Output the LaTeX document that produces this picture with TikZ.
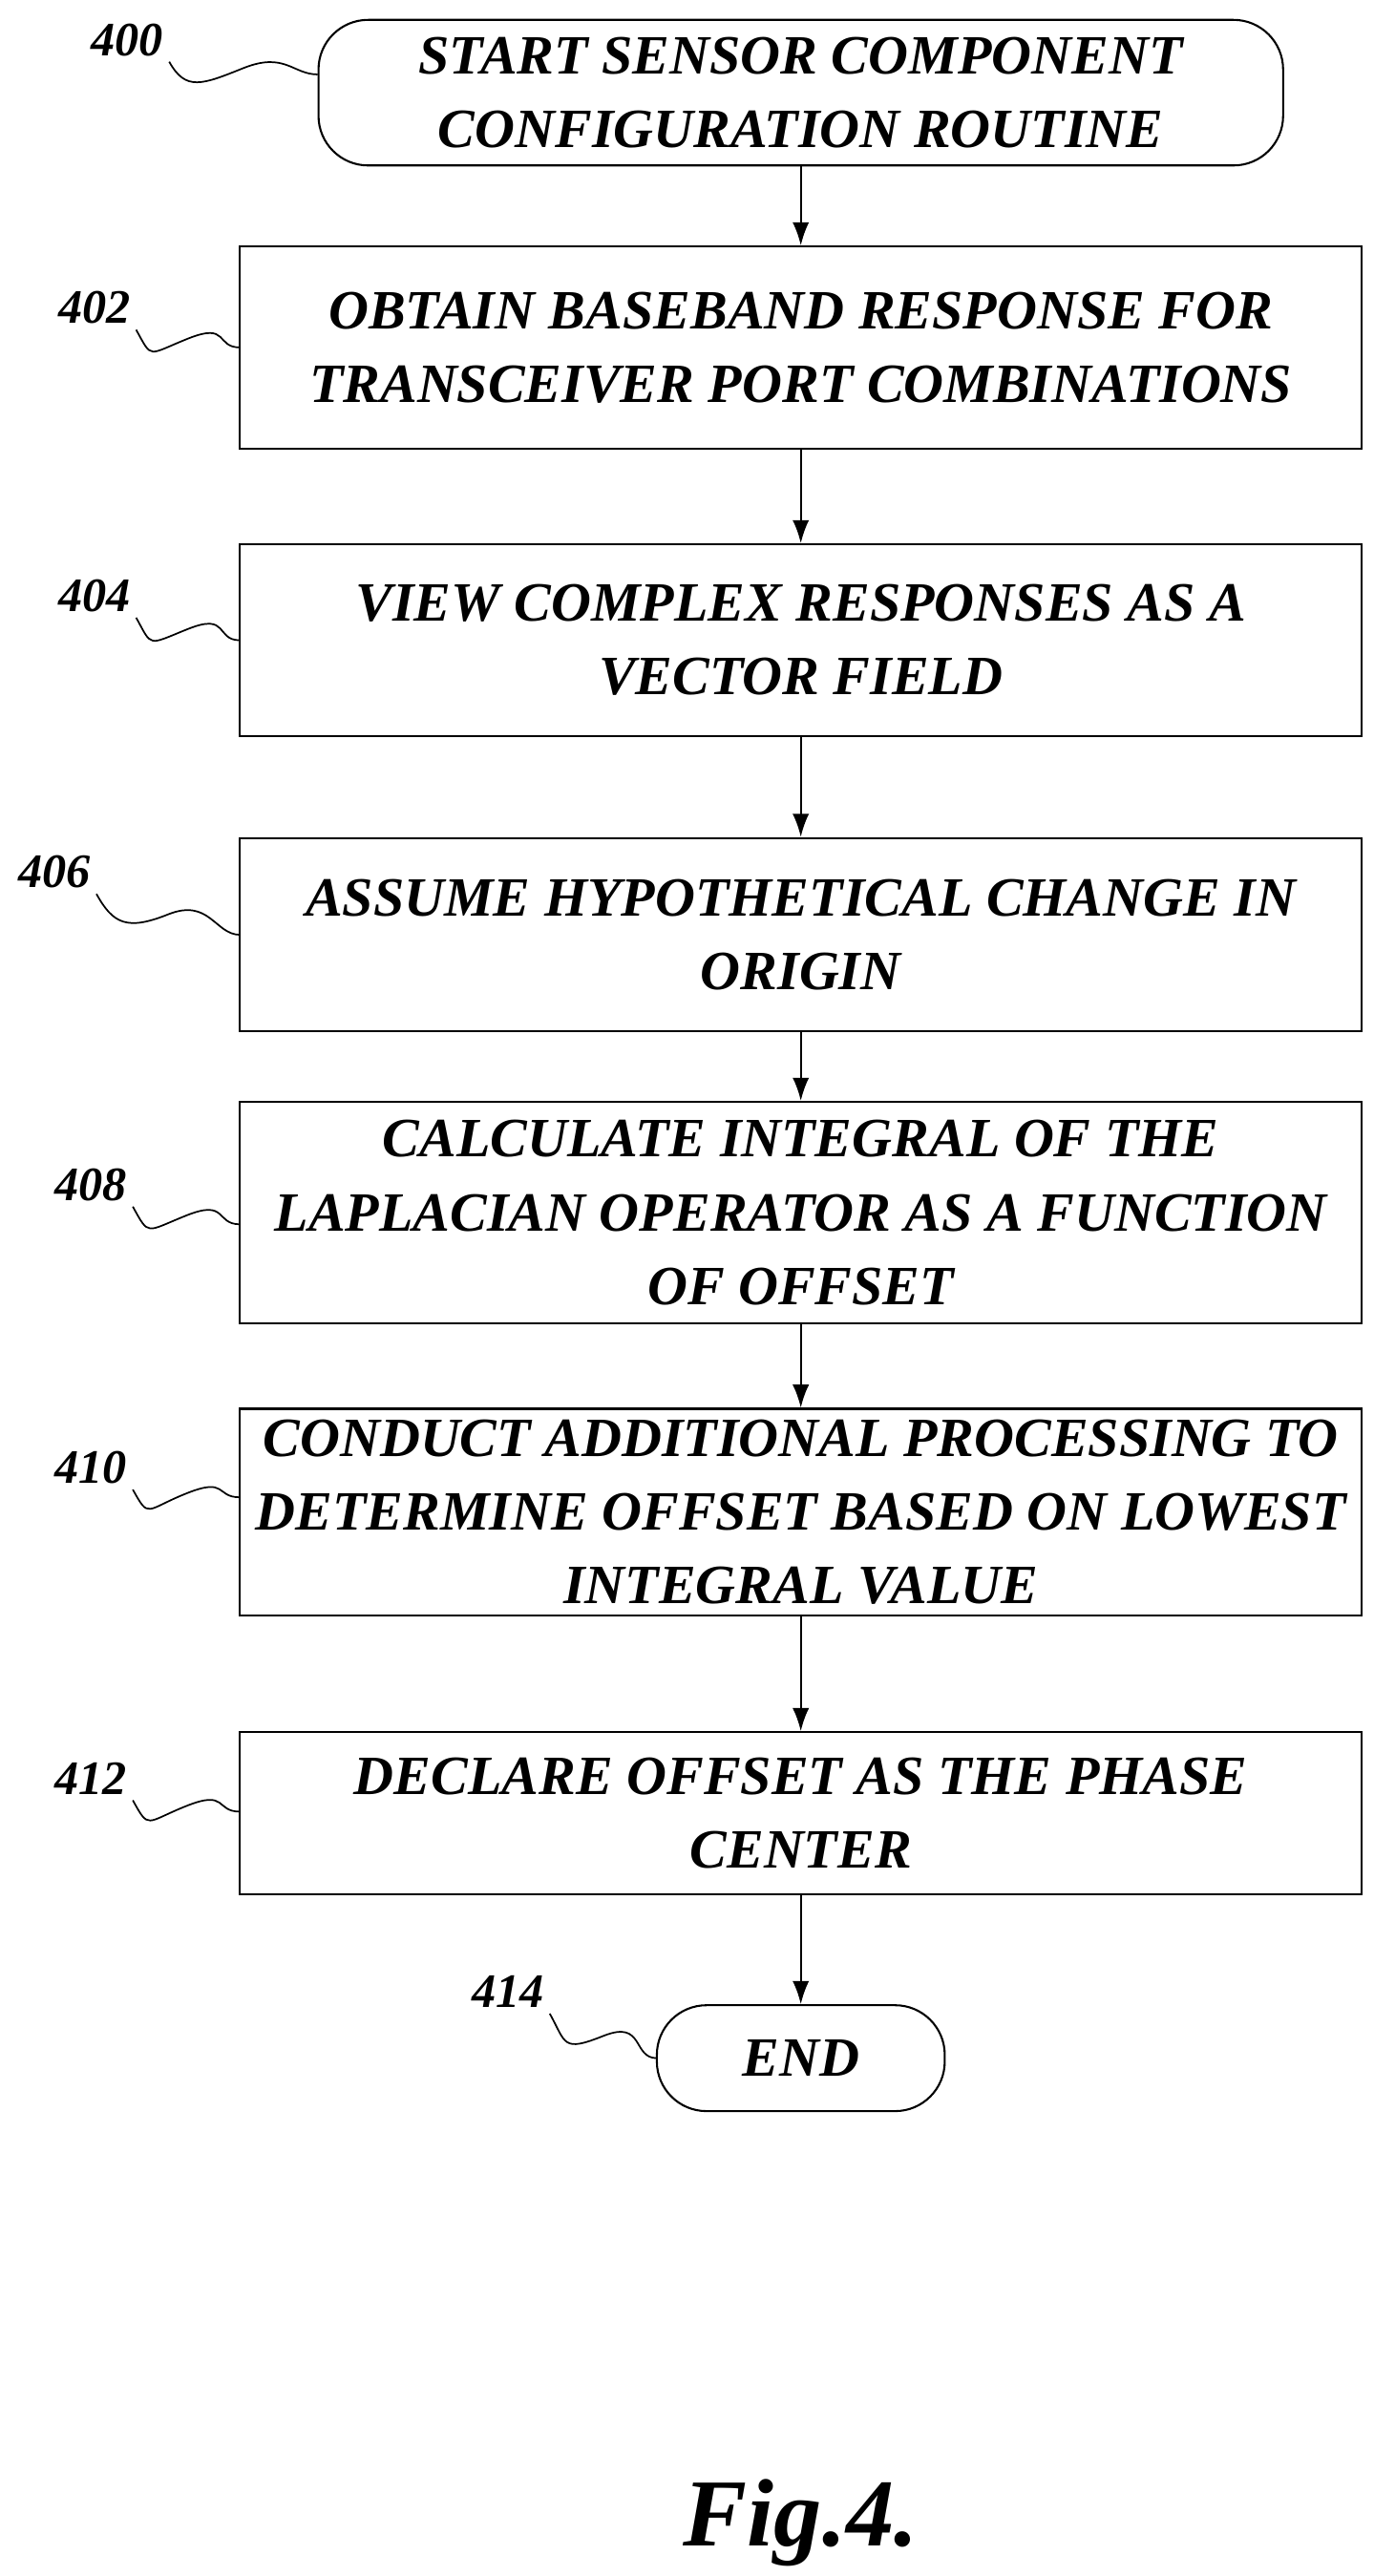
\documentclass[tikz,border=0pt]{standalone}
\usepackage{fontspec}
\setmainfont{Liberation Serif}
\usetikzlibrary{positioning,calc,arrows.meta}
\begin{document}
\begin{tikzpicture}[x=1pt,y=-1pt,
            every node/.style={font=\fontsize{33.5}{44.5}\selectfont\bfseries\itshape, align=center},
            stepbox/.style={draw, line width=1.2pt, minimum width=678pt, inner sep=0pt},
            term/.style={draw, line width=1.2pt, rounded corners=30pt, inner sep=0pt},
            lbl/.style={font=\fontsize{29}{29}\selectfont\bfseries\itshape},
            flow/.style={-{Latex[length=14pt,width=10pt]}, line width=1.2pt},
            wave/.style={line width=1pt}]
    \useasboundingbox (0,0) rectangle (830,1557);
    % steps
    \node[term, minimum width=583pt, minimum height=88pt] (s400) at (484,56)
        {START SENSOR COMPONENT\\CONFIGURATION ROUTINE};
    \node[stepbox, minimum height=122pt] (s402) at (484,210)
        {OBTAIN BASEBAND RESPONSE FOR\\TRANSCEIVER PORT COMBINATIONS};
    \node[stepbox, minimum height=116pt] (s404) at (484,387)
        {VIEW COMPLEX RESPONSES AS A\\VECTOR FIELD};
    \node[stepbox, minimum height=117pt] (s406) at (484,565)
        {ASSUME HYPOTHETICAL CHANGE IN\\ORIGIN};
    \node[stepbox, minimum height=134pt] (s408) at (484,733)
        {CALCULATE INTEGRAL OF THE\\LAPLACIAN OPERATOR AS A FUNCTION\\OF OFFSET};
    \node[stepbox, minimum height=125pt] (s410) at (484,914)
        {CONDUCT ADDITIONAL PROCESSING TO\\DETERMINE OFFSET BASED ON LOWEST\\INTEGRAL VALUE};
    \node[stepbox, minimum height=98pt] (s412) at (484,1096)
        {DECLARE OFFSET AS THE PHASE\\CENTER};
    \node[term, minimum width=174pt, minimum height=64pt] (s414) at (484,1244) {END};
    \node[font=\fontsize{58}{58}\selectfont\bfseries\itshape] (fig) at (484,1525) {Fig.4.};
    % arrows
    \foreach \a/\b in {s400/s402,s402/s404,s404/s406,s406/s408,s408/s410,s410/s412,s412/s414}
        \draw[flow] (\a) -- (\b);
    % reference numerals
    \foreach \n/\x/\y/\tx/\ty in {400/77/24/192/45, 402/57/186/145/210, 404/57/360/145/387,
                                   406/33/527/145/565, 408/55/716/145/740, 410/55/887/145/905,
                                   412/55/1075/145/1095, 414/307/1204/397/1244} {
        \node[lbl] (l\n) at (\x,\y) {\n};
        \coordinate (e\n) at (\tx,\ty);
        \draw[wave] (l\n.south east) .. controls +(10,18) and +(-25,10) .. ($(l\n.south east)!0.5!(e\n)$)
            .. controls +(25,-10) and +(-15,0) .. (e\n);
    }
\end{tikzpicture}
\end{document}
